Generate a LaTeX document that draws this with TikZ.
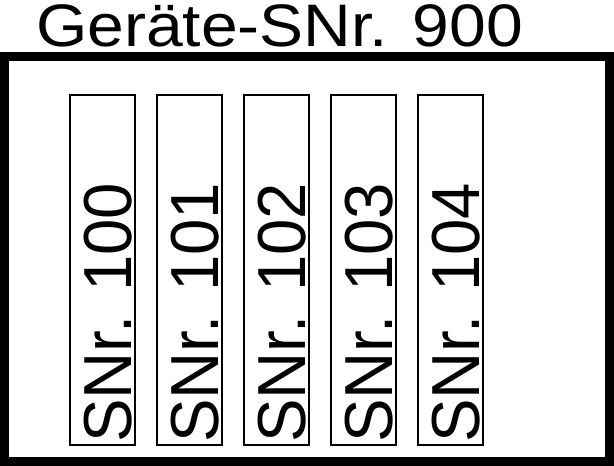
\documentclass[tikz,border=0pt]{standalone}
\usepackage{fontspec}
\setmainfont{Liberation Sans}
\begin{document}
\begin{tikzpicture}[x=1pt,y=-1pt,
  frame/.style={draw=black,line width=9pt},
  slot/.style={draw=black,line width=2pt},
  slotlabel/.style={rotate=90,anchor=base west,inner sep=0pt,font=\fontsize{68}{68}\selectfont,xscale=0.96},
  titlelabel/.style={anchor=base west,inner sep=0pt,font=\fontsize{60}{60}\selectfont,xscale=1.1}]
\useasboundingbox (0,0) rectangle (614,466);
\draw[frame] (4.5,56.5) rectangle (609.5,461.5);
\node[titlelabel] (title) at (36,46) {Geräte-SNr. 900};
\foreach \i/\n in {0/100,1/101,2/102,3/103,4/104}{
  \draw[slot] (70+87*\i,94.5) rectangle (135+87*\i,445);
  \node[slotlabel] (lab\i) at (131+87*\i,443) {SNr. \n};
}
\end{tikzpicture}
\end{document}
